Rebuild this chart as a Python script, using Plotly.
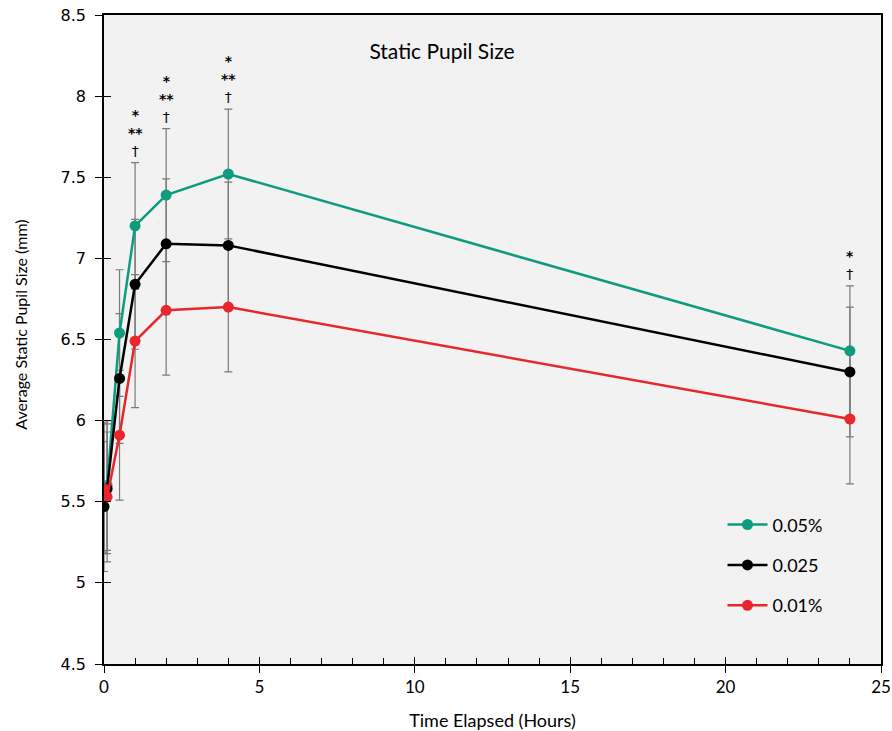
import plotly.graph_objects as go

hours = [0, 0.1, 0.5, 1, 2, 4, 24]

conc_labels = ["0.05%", "0.025", "0.01%"]
green_mean = [5.59, 5.60, 6.54, 7.20, 7.39, 7.52, 6.43]
black_mean = [5.47, 5.58, 6.26, 6.84, 7.09, 7.08, 6.30]
red_mean = [5.58, 5.53, 5.91, 6.49, 6.68, 6.70, 6.01]

green_sd = [0.40, 0.40, 0.39, 0.39, 0.41, 0.40, 0.40]
black_sd = [0.40, 0.40, 0.40, 0.40, 0.40, 0.39, 0.40]
red_sd = [0.40, 0.40, 0.40, 0.41, 0.40, 0.40, 0.40]

sig_labels = ["", "", "", "<b>*<br>**</b><br>†", "<b>*<br>**</b><br>†",
              "<b>*<br>**</b><br>†", "<b>*</b><br>†"]

y_ticks = [4.5, 5, 5.5, 6, 6.5, 7, 7.5, 8, 8.5]
y_tick_text = ["4.5", "5", "5.5", "6", "6.5", "7", "7.5", "8", "8.5"]
x_ticks = [0, 5, 10, 15, 20, 25]

colors = ["#0e9b80", "#000000", "#e8262b"]
means = [green_mean, black_mean, red_mean]
sds = [green_sd, black_sd, red_sd]

FONT = "Lato"
fig = go.Figure()

# error bars (base subplot, beneath lines)
for m, s in zip(means, sds):
    fig.add_trace(go.Scatter(
        x=hours, y=m, mode="markers", xaxis="x", yaxis="y",
        marker=dict(size=1, color="rgba(0,0,0,0)"),
        error_y=dict(type="data", array=s, visible=True, color="#7a7a7a",
                     thickness=1.2, width=4),
        showlegend=False, hoverinfo="skip"))

# lines + markers on the overlay subplot (drawn on top)
for m, c, lab in zip(means, colors, conc_labels):
    fig.add_trace(go.Scatter(
        x=hours, y=m, mode="lines+markers", name=lab, xaxis="x2", yaxis="y2",
        line=dict(color=c, width=2.5),
        marker=dict(color=c, size=11),
        legendgroup=lab))

# significance markers above the highest error bar
for h, gm, gs, lab in zip(hours, green_mean, green_sd, sig_labels):
    if lab:
        fig.add_annotation(x=h, y=gm + gs, xref="x", yref="y", text=lab,
                           showarrow=False, yanchor="bottom", yshift=2,
                           font=dict(family="DejaVu Sans", size=14, color="#000000"))

fig.add_annotation(text="Average Static Pupil Size (mm)", xref="paper", yref="paper",
                   x=-0.108, y=0.523, textangle=-90, showarrow=False,
                   xanchor="center", yanchor="middle",
                   font=dict(family=FONT, size=16, color="#000000"))

W, H = 892, 731
fig.update_layout(
    width=W, height=H,
    margin=dict(l=104, r=11, t=15, b=67, autoexpand=False),
    paper_bgcolor="#ffffff", plot_bgcolor="#f2f2f2",
    title=dict(text="Static Pupil Size", xref="paper", x=0.435, xanchor="center",
               yref="container", y=1 - 52 / H, yanchor="middle",
               font=dict(family=FONT, size=21, color="#000000")),
    showlegend=True,
    legend=dict(x=0.796, y=0.243, xanchor="left", yanchor="top",
                bgcolor="rgba(0,0,0,0)", traceorder="grouped", tracegroupgap=14,
                font=dict(family=FONT, size=18, color="#000000"), itemwidth=40),
    xaxis=dict(range=[0, 25], tickvals=x_ticks, ticks="outside", ticklen=7,
               tickcolor="#000000", showline=True, linecolor="#000000", linewidth=1.5,
               mirror=True, showgrid=False, zeroline=False, automargin=False,
               ticklabeloverflow="allow",
               tickfont=dict(family=FONT, size=17, color="#000000"),
               title=dict(text="Time Elapsed (Hours)", standoff=19,
                          font=dict(family=FONT, size=18, color="#000000"))),
    yaxis=dict(range=[4.5, 8.5], tickvals=y_ticks, ticktext=y_tick_text,
               ticks="outside", ticklen=7, tickcolor="#000000",
               showline=True, linecolor="#000000", linewidth=1.5, mirror=True,
               showgrid=False, zeroline=False, ticklabelstandoff=6, automargin=False,
               ticklabeloverflow="allow",
               tickfont=dict(family="DejaVu Sans", size=16, color="#000000")),
    xaxis2=dict(range=[0, 25], overlaying="x", anchor="y2", side="bottom",
                tickvals=x_ticks, ticks="inside", ticklen=7, tickcolor="#000000",
                showticklabels=False, showgrid=False, zeroline=False, showline=False,
                automargin=False,
                minor=dict(dtick=1, ticks="inside", ticklen=6, tickcolor="#000000")),
    yaxis2=dict(range=[4.5, 8.5], overlaying="y", anchor="x2", side="left",
                tickvals=y_ticks[:-1], ticks="inside", ticklen=7, tickcolor="#000000",
                showticklabels=False, showgrid=False, zeroline=False, showline=False,
                automargin=False),
)

fig.write_html("out.html", config={"displayModeBar": False},
               post_script="document.body.style.margin='0';"
                           "document.body.style.overflow='hidden';")
